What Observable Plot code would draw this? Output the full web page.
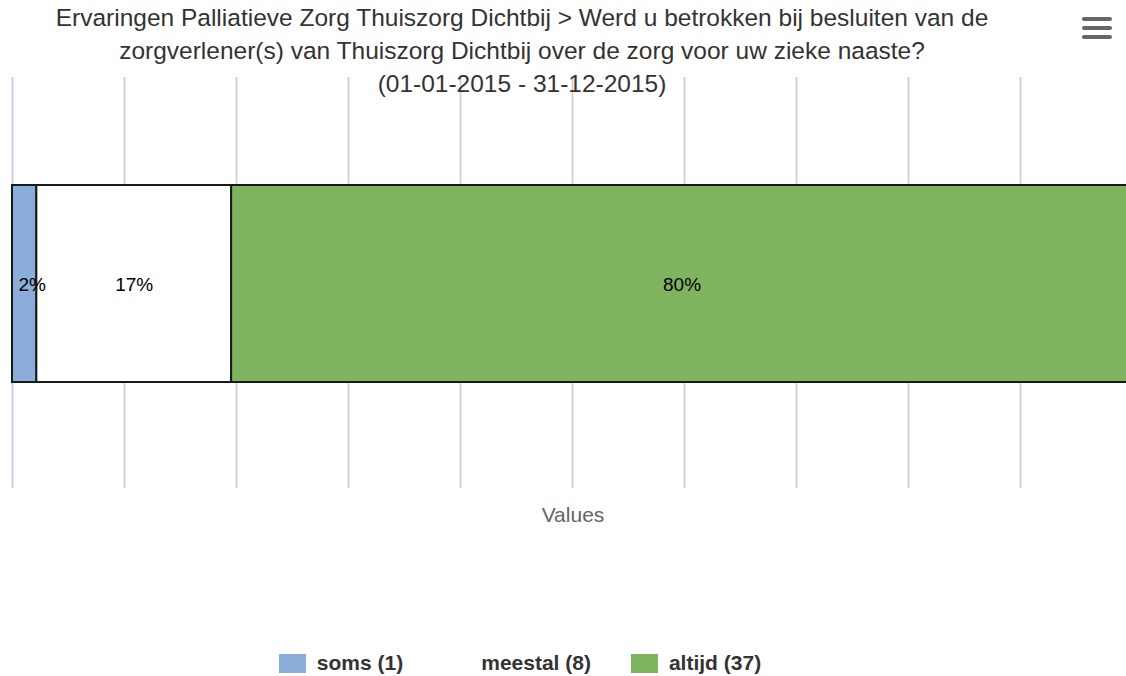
<!DOCTYPE html>
<html>
<head>
<meta charset="utf-8">
<script src="https://cdn.jsdelivr.net/npm/d3@7"></script>
<script src="https://cdn.jsdelivr.net/npm/@observablehq/plot@0.6"></script>
<style>
  html, body { margin: 0; padding: 0; background: #fff; overflow: hidden; }
  #wrap { position: relative; width: 1126px; height: 676px; overflow: hidden; font-family: "Liberation Sans", Arial, sans-serif; }
  #chart { position: absolute; left: 0; top: 0; }
  #title { position: absolute; left: 0; top: 1px; width: 1044px; text-align: center; font-size: 24.5px; line-height: 33px; color: #333; }
  #xtitle { position: absolute; left: 0; top: 504px; width: 1146px; text-align: center; font-size: 21px; line-height: 21px; color: #666; }
  #legend { position: absolute; left: 0; top: 651px; width: 1040px; display: flex; justify-content: center; gap: 40px; font-size: 21px; font-weight: bold; color: #333; line-height: 24px; }
  .item { display: flex; align-items: center; gap: 11px; }
  .sw { width: 27px; height: 19px; display: inline-block; }
  #menu { position: absolute; left: 1082px; top: 17px; }
</style>
</head>
<body>
<div id="wrap">
  <div id="chart"></div>
  <div id="title">Ervaringen Palliatieve Zorg Thuiszorg Dichtbij &gt; Werd u betrokken bij besluiten van de<br>zorgverlener(s) van Thuiszorg Dichtbij over de zorg voor uw zieke naaste?<br>(01-01-2015 - 31-12-2015)</div>
  <div id="xtitle">Values</div>
  <div id="legend"></div>
  <svg id="menu" width="30" height="24" viewBox="0 0 30 24">
    <line x1="2" y1="2" x2="28" y2="2" stroke="#666" stroke-width="4" stroke-linecap="round"/>
    <line x1="2" y1="11" x2="28" y2="11" stroke="#666" stroke-width="4" stroke-linecap="round"/>
    <line x1="2" y1="20" x2="28" y2="20" stroke="#666" stroke-width="4" stroke-linecap="round"/>
  </svg>
</div>
<script>
// ---- data ----
const categories = ["soms", "meestal", "altijd"];
const counts = [1, 8, 37];
const colors = ["#8aadd9", "#ffffff", "#7eb45f"];
const rowLabel = "Values";
const gridTicks = [0, 10, 20, 30, 40, 50, 60, 70, 80, 90, 100];

// ---- derived table ----
const total = d3.sum(counts);
let acc = 0;
const rows = categories.map((c, i) => {
  const pct = counts[i] / total * 100;
  const r = {category: c, count: counts[i], pct, x1: acc, x2: acc + pct, color: colors[i], row: rowLabel};
  acc += pct;
  return r;
});
const wideRows = rows.filter(d => d.pct >= 5);
const narrowRows = rows.filter(d => d.pct < 5);

const chart = Plot.plot({
  width: 1126,
  height: 676,
  marginTop: 77,
  marginBottom: 188,
  marginLeft: 12,
  marginRight: 0,
  x: {domain: [0, 100], range: [12, 1132], axis: null},
  y: {domain: [rowLabel], padding: 0, axis: null},
  style: {fontFamily: "Liberation Sans, Arial, sans-serif", overflow: "hidden", background: "transparent"},
  marks: [
    Plot.ruleX(gridTicks.filter(t => t > 0), {stroke: "#d0d0d0", strokeWidth: 1.75}),
    Plot.ruleX([0], {stroke: "#c5d2e6", strokeWidth: 2}),
    Plot.barX(rows, {
      x1: "x1", x2: "x2", y: "row",
      fill: d => d.color,
      stroke: "#1a1a1a", strokeWidth: 2,
      insetTop: 108, insetBottom: 106
    }),
    Plot.text(wideRows, {
      x: d => (d.x1 + d.x2) / 2, y: "row",
      text: d => Math.round(d.pct) + "%",
      fontSize: 19, fill: "#000", dy: 2
    }),
    Plot.text(narrowRows, {
      x: "x1", y: "row",
      text: d => Math.round(d.pct) + "%",
      fontSize: 19, fill: "#000", dy: 2, dx: 6, textAnchor: "start"
    })
  ]
});
document.getElementById("chart").appendChild(chart);

// legend
const legend = document.getElementById("legend");
rows.forEach(d => {
  const item = document.createElement("div");
  item.className = "item";
  const sw = document.createElement("span");
  sw.className = "sw";
  sw.style.background = d.color;
  const lab = document.createElement("span");
  lab.textContent = `${d.category} (${d.count})`;
  item.appendChild(sw);
  item.appendChild(lab);
  legend.appendChild(item);
});
</script>
</body>
</html>
